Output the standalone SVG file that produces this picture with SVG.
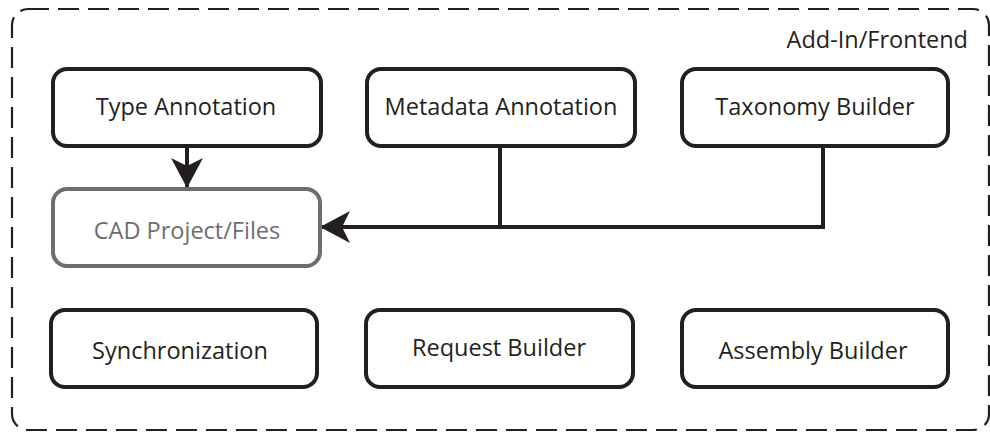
<svg xmlns="http://www.w3.org/2000/svg" width="990" height="432" viewBox="0 0 990 432">
  <defs>
    <style>
      .frame { fill: none; stroke: #231f20; stroke-width: 2.2; stroke-dasharray: 21 9; }
      .box { fill: #ffffff; stroke: #231f20; stroke-width: 4; }
      .box.muted { stroke: #6d6e71; }
      .label { font-family: "Open Sans", "Liberation Sans", sans-serif; font-size: 23.5px; fill: #231f20; text-anchor: middle; }
      .label.muted { fill: #6d6e71; }
      .title { font-family: "Open Sans", "Liberation Sans", sans-serif; font-size: 23.5px; fill: #231f20; text-anchor: end; }
      .wire { fill: none; stroke: #231f20; stroke-width: 4; }
    </style>
    <marker id="head" viewBox="0 0 30 32" refX="30" refY="16" markerWidth="30" markerHeight="32" markerUnits="userSpaceOnUse" orient="auto">
      <path d="M30 16 L0 0 L8 16 L0 32 Z" fill="#231f20"/>
    </marker>
  </defs>

  <!-- container boundary -->
  <rect class="frame" x="12" y="9" width="977" height="421" rx="16"/>
  <text class="title" x="968" y="48">Add-In/Frontend</text>

  <!-- connectors -->
  <g id="connectors">
    <path class="wire" d="M187 147 V188" marker-end="url(#head)"/>
    <path class="wire" d="M823 147 V227 H320" marker-end="url(#head)"/>
    <path class="wire" d="M500 147 V227"/>
  </g>

  <g id="type-annotation">
    <rect class="box" x="53" y="69" width="268" height="77" rx="14"/>
    <text class="label" x="186" y="115">Type Annotation</text>
  </g>
  <g id="metadata-annotation">
    <rect class="box" x="367" y="69" width="268" height="77" rx="14"/>
    <text class="label" x="501" y="115">Metadata Annotation</text>
  </g>
  <g id="taxonomy-builder">
    <rect class="box" x="682" y="69" width="266" height="77" rx="14"/>
    <text class="label" x="815" y="115">Taxonomy Builder</text>
  </g>
  <g id="cad-project">
    <rect class="box muted" x="53" y="189" width="267" height="77" rx="14"/>
    <text class="label muted" x="187" y="239">CAD Project/Files</text>
  </g>
  <g id="synchronization">
    <rect class="box" x="51" y="310" width="266" height="77" rx="14"/>
    <text class="label" x="180" y="359">Synchronization</text>
  </g>
  <g id="request-builder">
    <rect class="box" x="366" y="310" width="267" height="77" rx="14"/>
    <text class="label" x="499" y="356">Request Builder</text>
  </g>
  <g id="assembly-builder">
    <rect class="box" x="682" y="310" width="266" height="77" rx="14"/>
    <text class="label" x="813" y="359">Assembly Builder</text>
  </g>
</svg>
